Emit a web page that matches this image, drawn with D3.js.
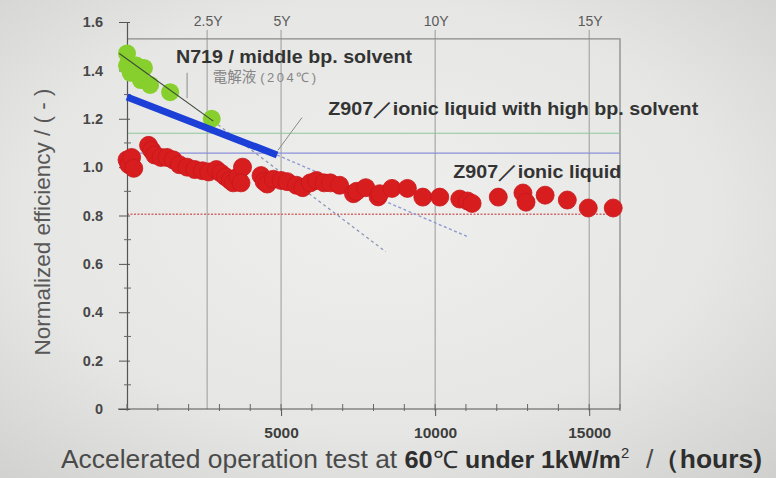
<!DOCTYPE html>
<html>
<head>
<meta charset="utf-8">
<script src="https://cdn.jsdelivr.net/npm/d3@7"></script>
<style>
  html,body{margin:0;padding:0;background:#e3e3e1;}
  svg{display:block;}
</style>
</head>
<body>
<svg id="chart" width="776" height="478"></svg>
<script>
// ---------- data ----------
const yTickValues = [0, 0.2, 0.4, 0.6, 0.8, 1.0, 1.2, 1.4, 1.6];
const yTickLabels = ["0", "0.2", "0.4", "0.6", "0.8", "1.0", "1.2", "1.4", "1.6"];
const xTickValues = [5000, 10000, 15000];
const xTickLabels = ["5000", "10000", "15000"];
const topLabels = ["2.5Y", "5Y", "10Y", "15Y"];
const topHours = [2600, 5000, 10000, 15000];

// N719 / middle bp. solvent (green)
const n719Hours = [0, 0, 120, 300, 550, 450, 750, 1400, 2750];
const n719Eff   = [1.47, 1.42, 1.39, 1.42, 1.41, 1.36, 1.34, 1.31, 1.20];

// Z907 / ionic liquid (red)
const z907Hours = [0, 60, 150, 220, 700, 800, 900, 1100, 1300, 1500, 1700, 1950, 2200, 2450, 2650, 2900,
  3050, 3200, 3350, 3450, 3600, 3750, 3700, 4350, 4450, 4550, 4750, 5000, 5200, 5500, 5700, 5950,
  6150, 6400, 6600, 6900, 7350, 7450, 7750, 8150, 8200, 8600, 9100, 9600, 10150, 10800, 11050, 11200,
  12050, 12850, 12950, 13570, 14290, 14970, 15780];
const z907Eff = [1.03, 1.01, 1.04, 0.995, 1.09, 1.07, 1.05, 1.04, 1.04, 1.03, 1.01, 1.0, 0.99, 0.985, 0.98, 0.99,
  0.975, 0.96, 0.945, 0.935, 0.96, 1.0, 0.935, 0.965, 0.94, 0.93, 0.95, 0.945, 0.94, 0.925, 0.915, 0.935,
  0.945, 0.935, 0.935, 0.925, 0.89, 0.9, 0.915, 0.877, 0.89, 0.912, 0.912, 0.876, 0.876, 0.868, 0.86, 0.85,
  0.876, 0.893, 0.855, 0.884, 0.864, 0.831, 0.831];

// Z907 / ionic liquid with high bp. solvent (blue trend) and its extrapolation
const blueHours = [0, 4870];
const blueEff   = [1.29, 1.05];
const blueExtHours = [4870, 11100];
const blueExtEff   = [1.05, 0.71];

// N719 trend and extrapolation
const greenFitHours = [-250, 2800];
const greenFitEff   = [1.47, 1.19];
const greenExtHours = [2800, 8400];
const greenExtEff   = [1.19, 0.65];

// horizontal reference levels
const refLevels = [1.14, 1.058, 0.805];
const refColors = ["#8fc89a", "#8a90d8", "#d06a6a"];

// ---------- layout ----------
const svg = d3.select("#chart");
const W = 776, H = 478;
const x = d3.scaleLinear().domain([0, 16000]).range([127, 620]);
const y = d3.scaleLinear().domain([0, 1.6]).range([409, 22]);
const boxTopVal = 1.53;
const FONT = "'Liberation Sans', Arial, sans-serif";

// background (photo-like)
const defs = svg.append("defs");
const rg = defs.append("radialGradient").attr("id", "bg").attr("cx", "48%").attr("cy", "45%").attr("r", "75%");
rg.append("stop").attr("offset", "0%").attr("stop-color", "#efefed");
rg.append("stop").attr("offset", "60%").attr("stop-color", "#e6e6e4");
rg.append("stop").attr("offset", "100%").attr("stop-color", "#d0d1ce");
svg.append("rect").attr("width", W).attr("height", H).attr("fill", "url(#bg)");

// vertical grid lines (year markers)
svg.append("g").selectAll("line").data(topHours).join("line")
  .attr("x1", d => x(d)).attr("x2", d => x(d))
  .attr("y1", y(boxTopVal) - 9).attr("y2", y(0))
  .attr("stroke", "#9a9a9a").attr("stroke-width", 1);

// top labels
svg.append("g").selectAll("text").data(topLabels).join("text")
  .attr("x", (d, i) => x(topHours[i]) + 1).attr("y", 26)
  .attr("text-anchor", "middle")
  .attr("font-family", FONT).attr("font-size", 14).attr("fill", "#5a5a5a")
  .text(d => d);

// plot box top and right
svg.append("path")
  .attr("d", `M${x(0)},${y(boxTopVal)}H${x(16000)}V${y(0)}`)
  .attr("fill", "none").attr("stroke", "#8a8a8a").attr("stroke-width", 1.3);

// reference horizontal lines
svg.append("g").selectAll("line").data(refLevels).join("line")
  .attr("x1", x(0)).attr("x2", x(16000))
  .attr("y1", d => y(d)).attr("y2", d => y(d))
  .attr("stroke", (d, i) => refColors[i])
  .attr("stroke-width", (d, i) => i === 2 ? 1.6 : 1.1)
  .attr("stroke-dasharray", (d, i) => i === 2 ? "2,1.5" : null);

// axes
const yAxis = d3.axisLeft(y).tickValues(yTickValues).tickFormat((d, i) => yTickLabels[i]).tickSize(8).tickPadding(16);
const gy = svg.append("g").attr("transform", `translate(${x(0)},0)`).call(yAxis);
gy.select(".domain").attr("stroke", "#555").attr("stroke-width", 1.2);
gy.selectAll(".tick line").attr("stroke", "#555").attr("x2", -8).attr("x1", 3);
gy.selectAll("text").attr("font-family", FONT).attr("font-size", 14.5).attr("font-weight", "bold").attr("fill", "#474747");
// minor y ticks
svg.append("g").selectAll("line").data(d3.range(1, 16, 2).map(v => v / 10)).join("line")
  .attr("x1", x(0) - 3).attr("x2", x(0) + 4)
  .attr("y1", d => y(d)).attr("y2", d => y(d))
  .attr("stroke", "#666").attr("stroke-width", 1);

const xAxis = d3.axisBottom(x).tickValues(xTickValues).tickFormat((d, i) => xTickLabels[i]).tickSize(7).tickPadding(11);
const gx = svg.append("g").attr("transform", `translate(0,${y(0)})`).call(xAxis);
gx.select(".domain").attr("d", `M${x(0) - 9},0H${x(16000)}`).attr("stroke", "#555").attr("stroke-width", 1.2);
gx.selectAll(".tick line").attr("stroke", "#555");
gx.selectAll("text").attr("font-family", FONT).attr("font-size", 15.5).attr("font-weight", "bold").attr("fill", "#3d3d3d");
// minor x ticks
svg.append("g").selectAll("line").data(d3.range(0, 16001, 1000)).join("line")
  .attr("x1", d => x(d)).attr("x2", d => x(d))
  .attr("y1", y(0) - 5).attr("y2", y(0) + 2)
  .attr("stroke", "#666").attr("stroke-width", 1);

// axis titles
svg.append("text")
  .attr("transform", `translate(50,222) rotate(-90)`)
  .attr("text-anchor", "middle")
  .attr("font-family", FONT).attr("font-size", 22.5).attr("fill", "#585858")
  .text("Normalized efficiency / ( - )");

const xt = svg.append("text")
  .attr("x", 61).attr("y", 468)
  .attr("font-family", FONT).attr("font-size", 25).attr("fill", "#4a4a4a");
xt.append("tspan").text("Accelerated operation test at ");
xt.append("tspan").attr("font-weight", "bold").attr("fill", "#2e2e2e").attr("font-size", 24).text("60");
xt.append("tspan").attr("fill", "#2e2e2e").attr("font-size", 24).text("℃ ");
xt.append("tspan").attr("font-weight", "bold").attr("fill", "#2e2e2e").attr("font-size", 23.5).text("under 1kW/m");
xt.append("tspan").attr("font-size", 14).attr("dy", -10).attr("fill", "#2e2e2e").text("2");
xt.append("tspan").attr("dy", 10).attr("dx", 16).text("/");
xt.append("tspan").attr("font-weight", "bold").attr("fill", "#2e2e2e").attr("font-size", 25).text("（hours)");
xt.attr("textLength", 701).attr("lengthAdjust", "spacingAndGlyphs");

// lines
const line = d3.line().x(d => x(d[0])).y(d => y(d[1]));
const pairs = (hs, vs) => hs.map((h, i) => [h, vs[i]]);

// green extrapolation dashed
svg.append("path").datum(pairs(greenExtHours, greenExtEff)).attr("d", line)
  .attr("fill", "none").attr("stroke", "#8c98b8").attr("stroke-width", 1.3).attr("stroke-dasharray", "3,3");
// blue extrapolation dashed
svg.append("path").datum(pairs(blueExtHours, blueExtEff)).attr("d", line)
  .attr("fill", "none").attr("stroke", "#8e9ad0").attr("stroke-width", 1.4).attr("stroke-dasharray", "3,2.5");

// red points
svg.append("g").selectAll("circle").data(pairs(z907Hours, z907Eff)).join("circle")
  .attr("cx", d => x(d[0])).attr("cy", d => y(d[1])).attr("r", 9)
  .attr("fill", "#d81d1f").attr("stroke", "#c8171a").attr("stroke-width", 0.8);

// green points
svg.append("g").selectAll("circle").data(pairs(n719Hours, n719Eff)).join("circle")
  .attr("cx", d => x(d[0])).attr("cy", d => y(d[1])).attr("r", 9)
  .attr("fill", "#86cf2c");

// green trend line
svg.append("path").datum(pairs(greenFitHours, greenFitEff)).attr("d", line)
  .attr("fill", "none").attr("stroke", "#3e4a3a").attr("stroke-width", 1.1);

// blue thick trend
svg.append("path").datum(pairs(blueHours, blueEff)).attr("d", line)
  .attr("fill", "none").attr("stroke", "#1c3fd8").attr("stroke-width", 7);

// pointer lines
svg.append("path").datum([[5680, 1.205], [4900, 1.07]]).attr("d", line)
  .attr("fill", "none").attr("stroke", "#8a8a8a").attr("stroke-width", 1);
svg.append("path").datum([[1950, 1.39], [1950, 1.285]]).attr("d", line)
  .attr("fill", "none").attr("stroke", "#8a8a8a").attr("stroke-width", 1);

// annotations
const ann = svg.append("g").attr("font-family", FONT).attr("font-weight", "bold").attr("fill", "#333");
ann.append("text").attr("x", x(1590)).attr("y", y(1.43)).attr("font-size", 17.5)
  .attr("textLength", 236).attr("lengthAdjust", "spacingAndGlyphs")
  .text("N719 / middle bp. solvent");
const sub = svg.append("text").attr("x", x(2780)).attr("y", y(1.352))
  .attr("font-family", FONT).attr("fill", "#858585");
sub.append("tspan").attr("font-family", "'Noto Sans CJK JP', sans-serif").attr("font-size", 14.5).text("電解液");
sub.append("tspan").attr("font-size", 13).attr("dx", 4).attr("letter-spacing", 2.5).text("(204℃)");
ann.append("text").attr("x", x(6530)).attr("y", y(1.215)).attr("font-size", 18)
  .attr("textLength", 370).attr("lengthAdjust", "spacingAndGlyphs")
  .text("Z907／ionic liquid with high bp. solvent");
ann.append("text").attr("x", x(10590)).attr("y", y(0.955)).attr("font-size", 18)
  .attr("textLength", 168).attr("lengthAdjust", "spacingAndGlyphs")
  .text("Z907／ionic liquid");
</script>
</body>
</html>
